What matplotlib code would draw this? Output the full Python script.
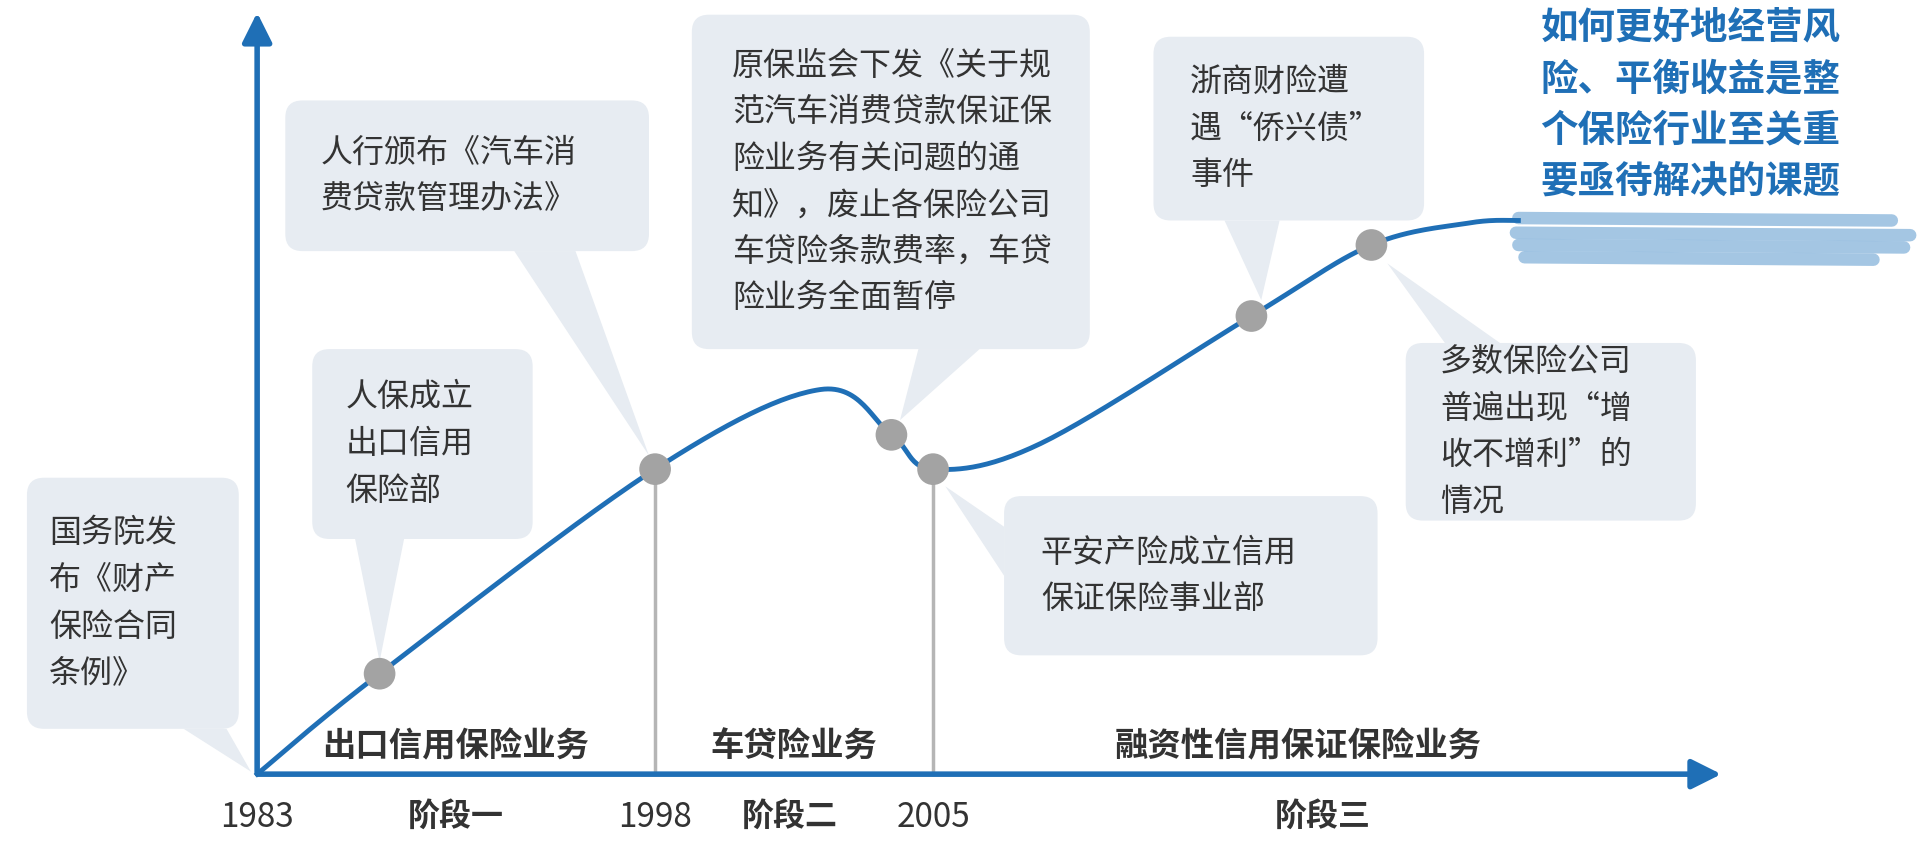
import numpy as np
import matplotlib
matplotlib.use("Agg")
import matplotlib.pyplot as plt
from matplotlib.patches import FancyBboxPatch, Polygon, FancyArrowPatch

plt.rcParams['font.family'] = ['Noto Sans CJK SC', 'DejaVu Sans']

W, H = 1568, 698
BLUE = '#1f6fb6'
BOX = '#e7ecf2'
DOT = '#a3a3a3'
TXT = '#333333'

years = ['1983', '1998', '2005']
year_x = [210, 535, 762]
stages = ['阶段一', '阶段二', '阶段三']
stage_x = [372, 645, 1080]
businesses = ['出口信用保险业务', '车贷险业务', '融资性信用保证保险业务']
business_x = [372, 648, 1060]

curve_x = [210, 310, 535, 670, 728, 762, 850, 1022, 1120, 1200, 1240]
curve_y = [632, 550, 383, 318, 355, 383, 362, 258, 200, 182, 180]
dot_x = [310, 535, 728, 762, 1022, 1120]
dot_y = [550, 383, 355, 383, 258, 200]

callouts = [
    (22, 390, 195, 595, 40, ['国务院发', '布《财产', '保险合同', '条例》'], 205, 630, [(150, 595), (185, 595)]),
    (255, 285, 435, 440, 282, ['人保成立', '出口信用', '保险部'], 310, 540, [(290, 440), (330, 440)]),
    (233, 82, 530, 205, 262, ['人行颁布《汽车消', '费贷款管理办法》'], 530, 372, [(420, 205), (470, 205)]),
    (565, 12, 890, 285, 598, ['原保监会下发《关于规', '范汽车消费贷款保证保', '险业务有关问题的通', '知》，废止各保险公司', '车贷险条款费率，车贷', '险业务全面暂停'], 735, 343, [(750, 285), (800, 285)]),
    (820, 405, 1125, 535, 850, ['平安产险成立信用', '保证保险事业部'], 772, 397, [(820, 430), (820, 470)]),
    (942, 30, 1163, 180, 972, ['浙商财险遭', '遇“侨兴债”', '事件'], 1030, 245, [(1000, 180), (1045, 180)]),
    (1148, 280, 1385, 425, 1176, ['多数保险公司', '普遍出现“增', '收不增利”的', '情况'], 1133, 215, [(1180, 280), (1225, 280)]),
]
headline = ['如何更好地经营风', '险、平衡收益是整', '个保险行业至关重', '要亟待解决的课题']


def catmull(xs, ys, n=30):
    P = np.array(list(zip(xs, ys)), float)
    P = np.vstack([P[0], P, P[-1]])
    out = []
    for i in range(1, len(P) - 2):
        p0, p1, p2, p3 = P[i - 1], P[i], P[i + 1], P[i + 2]
        for t in np.linspace(0, 1, n, endpoint=False):
            t2, t3 = t * t, t * t * t
            out.append(0.5 * ((2 * p1) + (-p0 + p2) * t + (2 * p0 - 5 * p1 + 4 * p2 - p3) * t2 + (-p0 + 3 * p1 - 3 * p2 + p3) * t3))
    out.append(P[-2])
    return np.array(out)


fig = plt.figure(figsize=(19.2, 8.55), dpi=100)
ax = fig.add_axes([0, 0, 1, 1])
ax.set_xlim(0, W)
ax.set_ylim(H, 0)
ax.axis('off')

for x0, y0, x1, y1, tx, lines, px, py, base in callouts:
    ax.add_patch(Polygon([base[0], base[1], (px, py)], closed=True, fc=BOX, ec='none', zorder=1))
    ax.add_patch(FancyBboxPatch((x0 + 14, y0 + 14), x1 - x0 - 28, y1 - y0 - 28,
                                boxstyle='round,pad=14', fc=BOX, ec='none', zorder=1))
    n = len(lines)
    lh = 38
    cy = (y0 + y1) / 2
    for i, s in enumerate(lines):
        ax.text(tx, cy + (i - (n - 1) / 2) * lh, s, fontsize=23, color=TXT, va='center', ha='left', zorder=3)

for xv in year_x[1:]:
    ax.plot([xv, xv], [383, 632], color='#b5b5b5', lw=2.5, zorder=2)

for yy, x0, x1 in [(178, 1240, 1545), (190, 1238, 1560), (200, 1240, 1555), (210, 1245, 1530)]:
    ax.plot([x0, x1], [yy, yy + 2], color='#8db8dd', lw=9, alpha=0.8, solid_capstyle='round', zorder=2)

c = catmull(curve_x, curve_y)
ax.plot(c[:, 0], c[:, 1], color=BLUE, lw=3.5, zorder=3)
ax.scatter(dot_x, dot_y, s=520, color=DOT, zorder=4, edgecolors='none')

ax.add_patch(FancyArrowPatch((210, 633), (210, 8), arrowstyle='-|>,head_length=12,head_width=6', color=BLUE, lw=4, zorder=5, mutation_scale=1.5))
ax.add_patch(FancyArrowPatch((208, 632), (1408, 632), arrowstyle='-|>,head_length=12,head_width=6', color=BLUE, lw=4, zorder=5, mutation_scale=1.5))

for s, x in zip(years, year_x):
    ax.text(x, 667, s, fontsize=24, color=TXT, ha='center', va='center')
for s, x in zip(stages, stage_x):
    ax.text(x, 667, s, fontsize=23, color=TXT, ha='center', va='center', fontweight='bold')
for s, x in zip(businesses, business_x):
    ax.text(x, 610, s, fontsize=24, color=TXT, ha='center', va='center', fontweight='bold')

for i, s in enumerate(headline):
    ax.text(1258, 22 + i * 42, s, fontsize=27, color=BLUE, ha='left', va='center', fontweight='bold')

fig.savefig('out.png', dpi=100)
